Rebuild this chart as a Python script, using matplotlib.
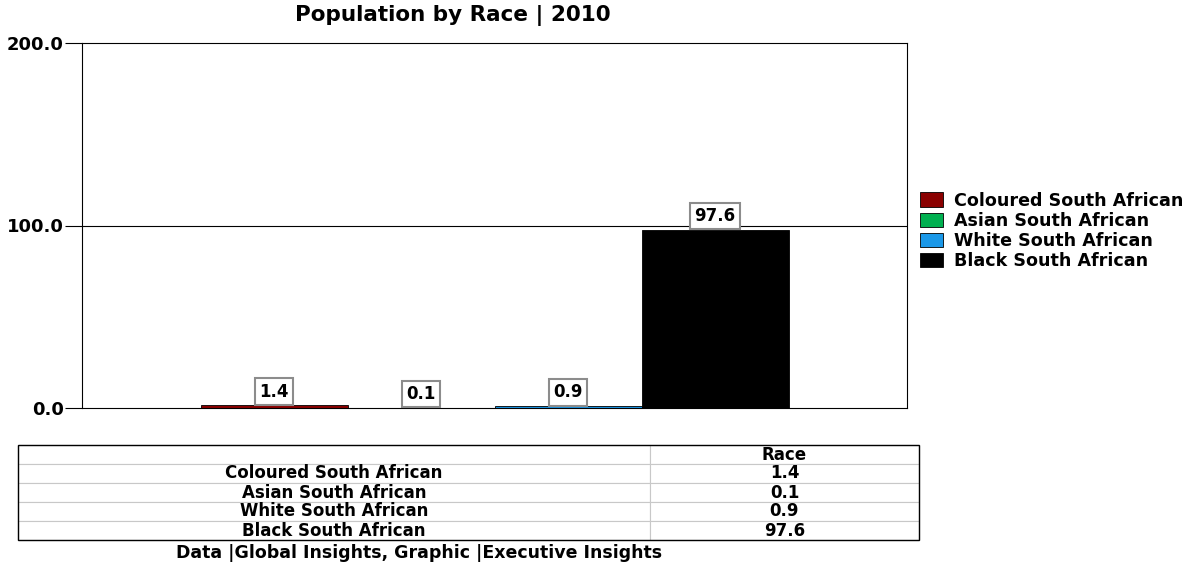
import matplotlib
matplotlib.use("Agg")
import matplotlib.pyplot as plt
import numpy as np

# data
races = ["Coloured South African", "Asian South African", "White South African", "Black South African"]
values = [1.4, 0.1, 0.9, 97.6]
colors = ["#8a0000", "#00b050", "#1a98e8", "#000000"]
y_ticks = [0, 100, 200]
table_header = "Race"

fig = plt.figure(figsize=(12.01, 5.65), dpi=100)
W, H = 1201, 565

# main chart area
ax = fig.add_axes([82 / W, 1 - 408 / H, (907 - 82) / W, (408 - 43) / H])
width = 147 / 825
offsets = (np.arange(len(races)) - 1.5) * width
for i, (name, val, col) in enumerate(zip(races, values, colors)):
    ax.bar(offsets[i], val, width=width, color=col, edgecolor="black", linewidth=0.6, label=name)
    ax.annotate(f"{val:.1f}", (offsets[i], val), xytext=(0, 10), textcoords="offset points",
                ha="center", va="center", fontsize=12, fontweight="bold",
                bbox=dict(boxstyle="square,pad=0.26", fc="white", ec="#8c8c8c", lw=1.5))

ax.set_xlim(-0.5, 0.5)
ax.set_ylim(0, 200)
ax.set_yticks(y_ticks)
ax.set_yticklabels([f"{t:.1f}" for t in y_ticks], fontsize=13, fontweight="bold")
ax.set_xticks([])
ax.tick_params(axis="y", length=12, width=0.8, pad=1)
ax.axhline(100, color="black", lw=0.8, zorder=0)
for s in ax.spines.values():
    s.set_linewidth(0.8)

fig.text(453 / W, 1 - 15 / H, "Population by Race | 2010", ha="center", va="center",
         fontsize=15.5, fontweight="bold")

# legend on the right
handles, labels = ax.get_legend_handles_labels()
fig.legend(handles, labels, loc="upper left", bbox_to_anchor=(904 / W, 1 - 176 / H),
           frameon=False, prop={"weight": "bold", "size": 12.6},
           handlelength=1.3, handleheight=0.9, handletextpad=0.65, labelspacing=0.12)

# data table below
tax = fig.add_axes([18 / W, 1 - 540 / H, (919 - 18) / W, (540 - 445) / H])
tax.axis("off")
cells = [["", table_header]] + [[r, f"{v:.1f}"] for r, v in zip(races, values)]
tbl = tax.table(cellText=cells, colWidths=[632 / 901, 269 / 901], bbox=[0, 0, 1, 1], cellLoc="center")
tbl.auto_set_font_size(False)
for (r, c), cell in tbl.get_celld().items():
    cell.set_edgecolor("#c8c8c8")
    cell.set_linewidth(0.8)
    cell.get_text().set_fontsize(12)
    cell.get_text().set_fontweight("bold")
tax.add_patch(plt.Rectangle((0, 0), 1, 1, transform=tax.transAxes, fill=False, ec="black",
                            lw=1, zorder=10, clip_on=False))

fig.text(419 / W, 1 - 553 / H, "Data |Global Insights, Graphic |Executive Insights", ha="center",
         va="center", fontsize=12.5, fontweight="bold")

fig.savefig("out.png", dpi=100)
